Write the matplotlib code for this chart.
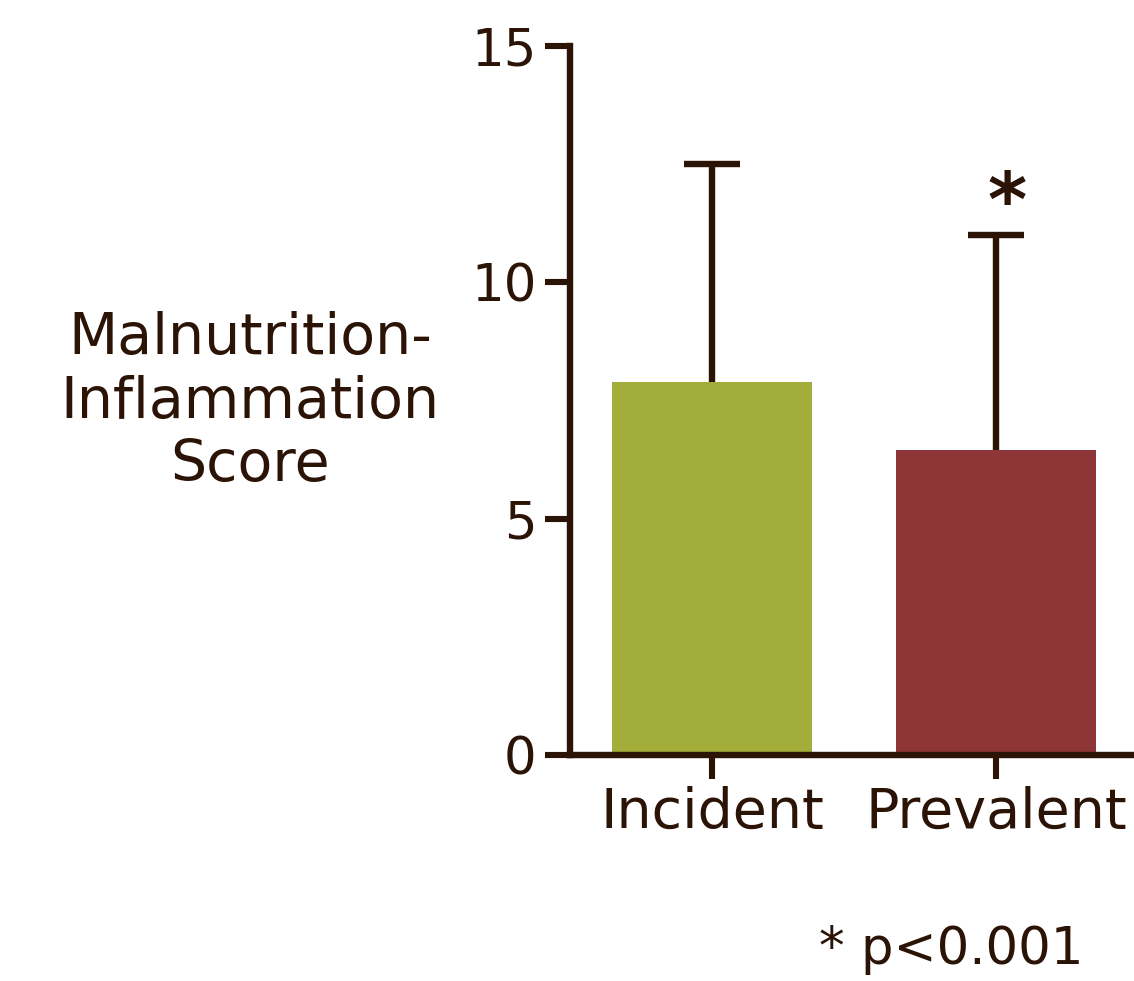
import matplotlib
matplotlib.use("Agg")
import matplotlib.pyplot as plt

categories = ["Incident", "Prevalent"]
means = [7.9, 6.45]
sds = [4.6, 4.55]
colors = ["#a2ad3a", "#8e3538"]
yticks = [0, 5, 10, 15]
ylabel = "Malnutrition-\nInflammation\nScore"
note = "* p<0.001"

ink = "#2b1306"
plt.rcParams['font.family'] = ['DejaVu Sans']

fig = plt.figure(figsize=(11.34, 9.81), dpi=100)
ax = fig.add_axes([570/1134, 1-755/981, 564/1134, 709/981])

x = list(range(len(categories)))
ax.bar(x, means, width=0.704, color=colors, zorder=2)
eb = ax.errorbar(x, means, yerr=[[0]*len(sds), sds], fmt='none', ecolor=ink,
                 elinewidth=4.6, capsize=20, capthick=4.6, zorder=3)
# hide the caps sitting on top of the bars (only upper caps are shown)
for cl in eb[1]:
    yd = list(cl.get_ydata())
    if all(abs(a - b) < 1e-9 for a, b in zip(yd, means)):
        cl.set_visible(False)

ax.set_xlim(-0.5, 1.486)
ax.set_ylim(0, 15)
ax.set_yticks(yticks)
ax.set_xticks(x)
ax.set_xticklabels(categories, fontsize=40, color=ink)
ax.set_yticklabels([str(t) for t in yticks], fontsize=37, color=ink)
ax.tick_params(axis='y', length=18, width=4.4, color=ink, pad=6)
ax.tick_params(axis='x', length=17, width=4.4, color=ink, pad=5)
for s in ['top', 'right']:
    ax.spines[s].set_visible(False)
for s in ['left', 'bottom']:
    ax.spines[s].set_color(ink)
    ax.spines[s].set_linewidth(4.6)
    ax.spines[s].set_capstyle('projecting')
ax.spines['left'].set_zorder(4)
ax.spines['bottom'].set_zorder(4)

ax.annotate("*", xy=(1, means[1] + sds[1]), xytext=(8, 21), textcoords='offset points',
            ha='center', va='center', fontsize=54, fontweight='bold', color=ink)

fig.text(250/1134, 1-402/981, ylabel, ha='center', va='center', fontsize=41,
         color=ink, linespacing=1.19)
fig.text(951/1134, 1-950/981, note, ha='center', va='center', fontsize=37, color=ink)

fig.savefig("out.png", dpi=100)
